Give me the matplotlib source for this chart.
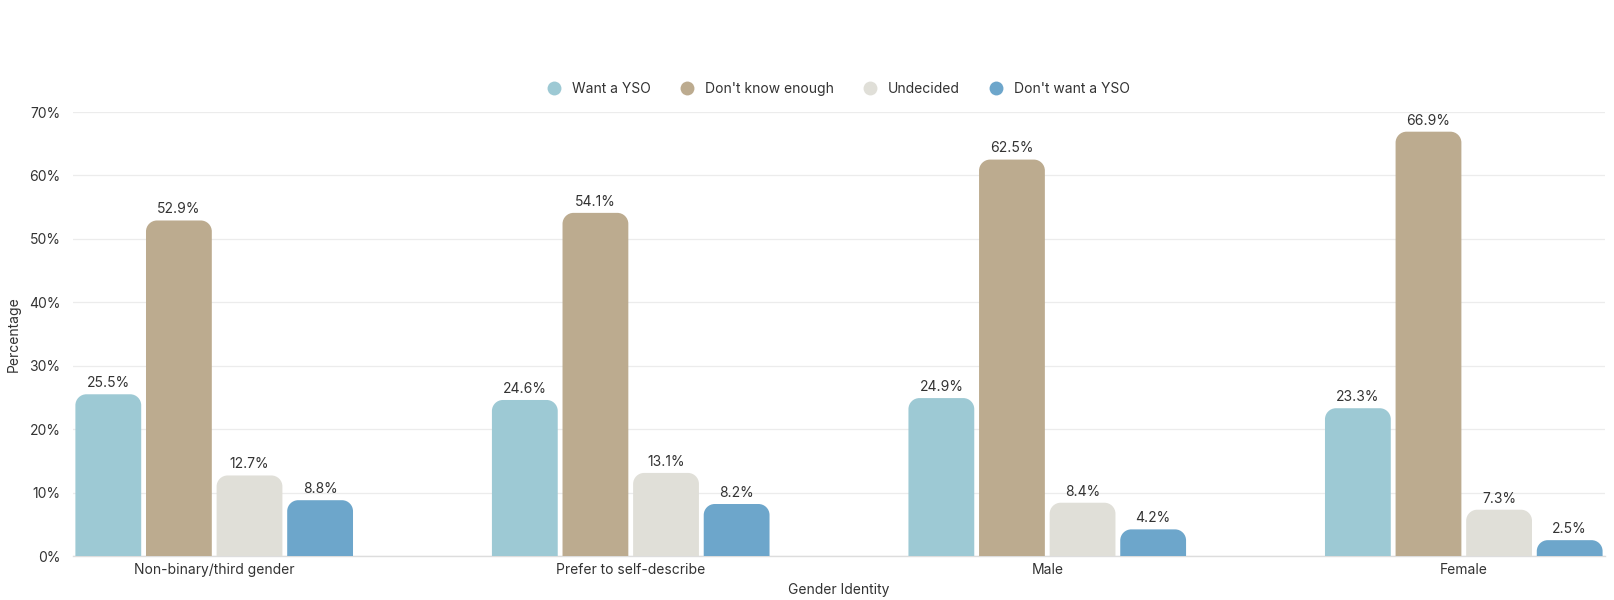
import matplotlib
matplotlib.use("Agg")
import matplotlib.pyplot as plt
from matplotlib.path import Path
from matplotlib.patches import PathPatch
from matplotlib.lines import Line2D
import numpy as np

plt.rcParams['font.family'] = ['Inter', 'DejaVu Sans']

categories = ["Non-binary/third gender", "Prefer to self-describe", "Male", "Female"]
series_names = ["Want a YSO", "Don't know enough", "Undecided", "Don't want a YSO"]
want_yso = [25.5, 24.6, 24.9, 23.3]
dont_know = [52.9, 54.1, 62.5, 66.9]
undecided = [12.7, 13.1, 8.4, 7.3]
dont_want = [8.8, 8.2, 4.2, 2.5]
y_ticks = [0, 10, 20, 30, 40, 50, 60, 70]

series = [want_yso, dont_know, undecided, dont_want]
colors = ["#9dc9d4", "#bcab8f", "#e0dfd8", "#6da6cb"]

fig = plt.figure(figsize=(16.15, 6), dpi=100)
ax = fig.add_axes([0.0452, 0.0733, 0.9486, 0.74])

slot = 0.1695
bar_w = 0.158
x = np.arange(len(categories))
ax.set_xlim(-0.339, len(categories) - 1 + 0.339)
ax.set_ylim(0, 70)

fig.canvas.draw()
# pixel sizes of one data unit, used to keep the corner radius round on screen
px_per_x = ax.transData.transform((1, 0))[0] - ax.transData.transform((0, 0))[0]
px_per_y = ax.transData.transform((0, 1))[1] - ax.transData.transform((0, 0))[1]
radius_px = 11


def rounded_top_bar(x0, w, h):
    rx = min(radius_px / px_per_x, w / 2)
    ry = min(radius_px / px_per_y, h)
    k = 0.5523
    verts = [
        (x0, 0), (x0, h - ry),
        (x0, h - ry + k * ry), (x0 + rx - k * rx, h), (x0 + rx, h),
        (x0 + w - rx, h),
        (x0 + w - rx + k * rx, h), (x0 + w, h - ry + k * ry), (x0 + w, h - ry),
        (x0 + w, 0), (x0, 0),
    ]
    codes = [Path.MOVETO, Path.LINETO,
             Path.CURVE4, Path.CURVE4, Path.CURVE4,
             Path.LINETO,
             Path.CURVE4, Path.CURVE4, Path.CURVE4,
             Path.LINETO, Path.CLOSEPOLY]
    return Path(verts, codes)


for i, (vals, col) in enumerate(zip(series, colors)):
    offsets = x - 2 * slot + i * slot + (slot - bar_w) / 2
    for xo, v in zip(offsets, vals):
        patch = PathPatch(rounded_top_bar(xo, bar_w, v), facecolor=col,
                          edgecolor='none', zorder=3)
        ax.add_patch(patch)
        ax.annotate(f"{v:.1f}%", (xo + bar_w / 2, v), xytext=(0, 3),
                    textcoords='offset points', ha='center', va='bottom',
                    fontsize=10, color='#333333', zorder=4)

ax.set_yticks(y_ticks)
ax.set_yticklabels([f"{t}%" for t in y_ticks])
ax.set_xticks(x)
ax.set_xticklabels(categories)
ax.tick_params(axis='both', length=0, labelsize=10, colors='#333333')
ax.tick_params(axis='y', pad=9)
ax.tick_params(axis='x', pad=5)
ax.grid(axis='y', color='#ececec', linewidth=0.9, zorder=0)
ax.set_axisbelow(True)
for side in ['top', 'right', 'left']:
    ax.spines[side].set_visible(False)
ax.spines['bottom'].set_color('#dddddd')
ax.spines['bottom'].set_linewidth(1.0)

ax.set_xlabel("Gender Identity", fontsize=10, color='#333333', labelpad=4)
ax.set_ylabel("Percentage", fontsize=10, color='#333333', labelpad=6)

handles = [Line2D([0], [0], marker='o', linestyle='none', markersize=10,
                  markerfacecolor=c, markeredgecolor='none') for c in colors]
fig.legend(handles, series_names, loc='center', bbox_to_anchor=(0.517, 0.852),
           ncol=4, frameon=False, fontsize=10, handletextpad=0.3,
           columnspacing=1.6, labelcolor='#333333')

fig.savefig("out.png", dpi=100, facecolor='white')
